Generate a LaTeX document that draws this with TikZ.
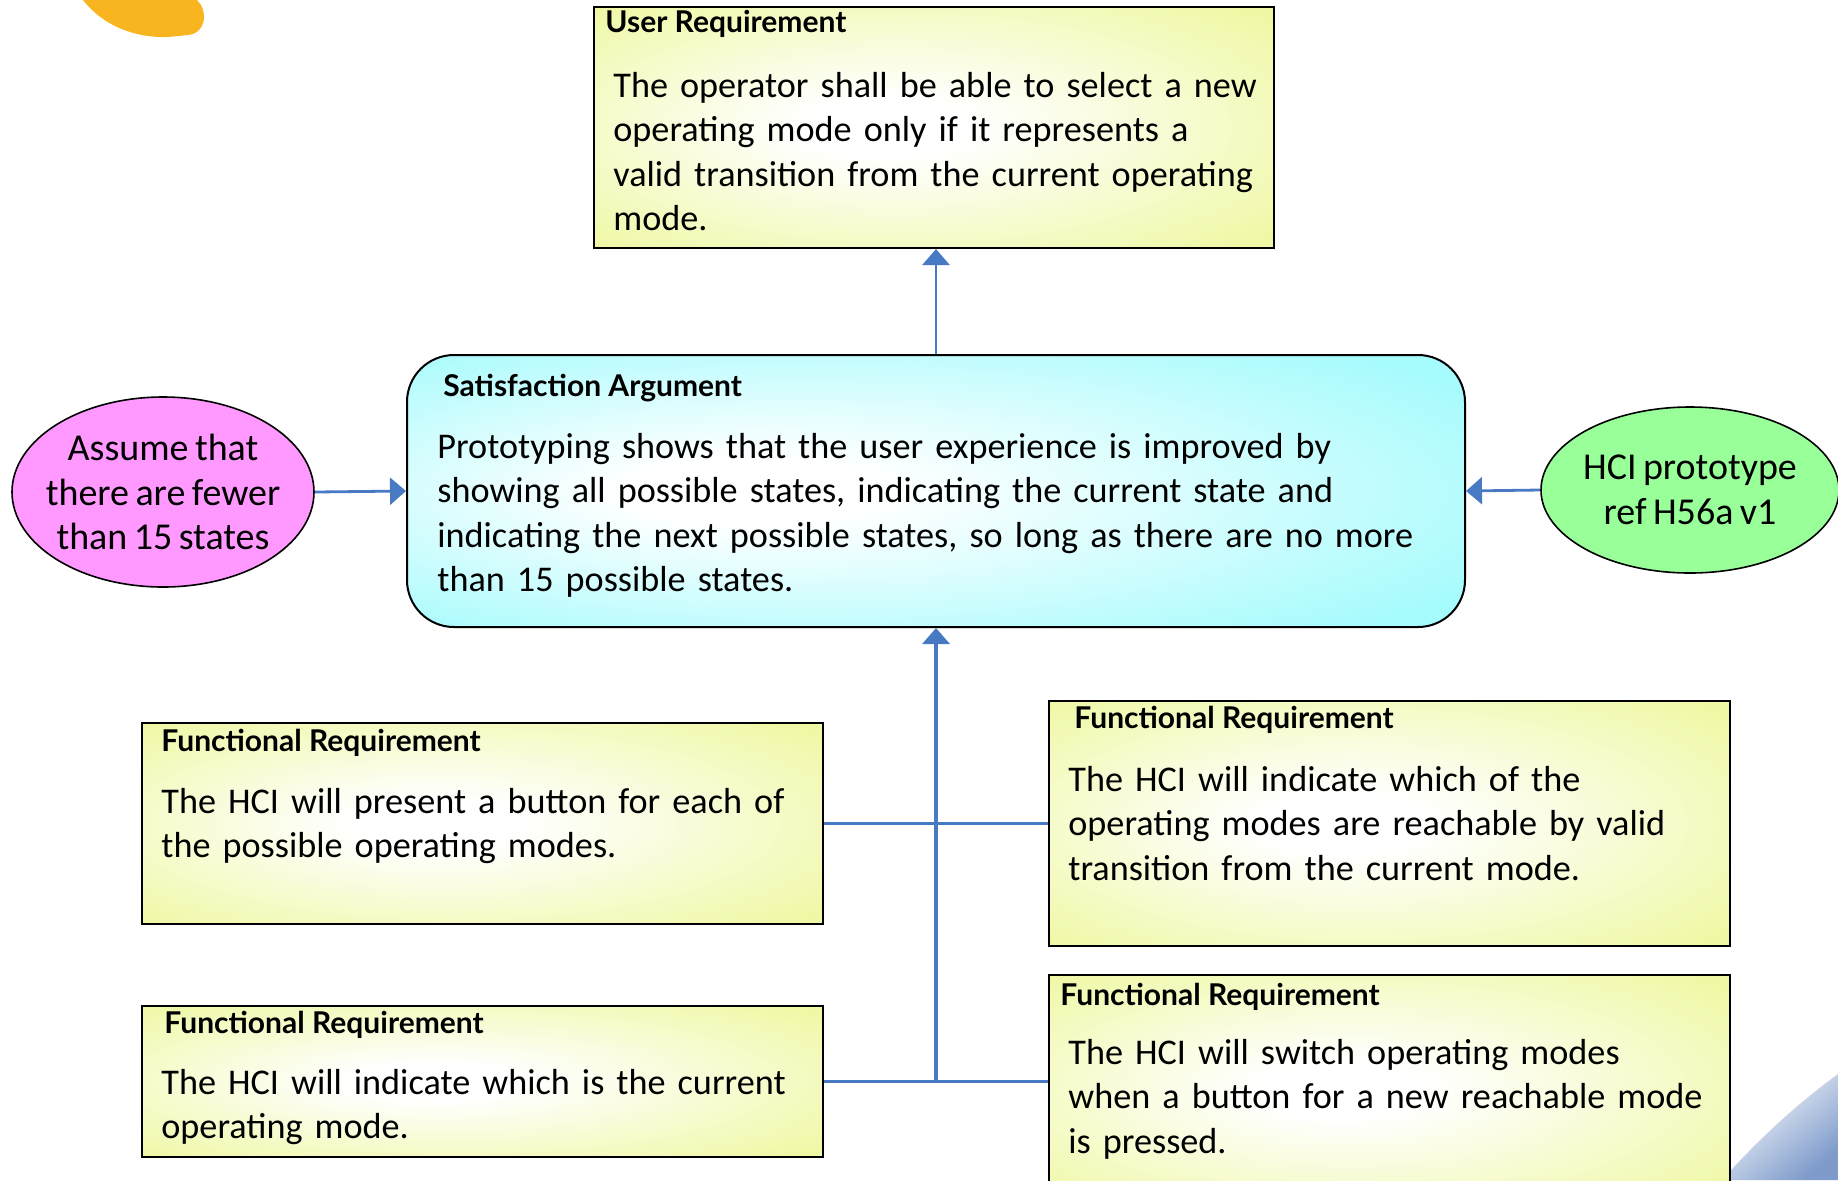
\documentclass[tikz,border=0pt]{standalone}
\usepackage{fontspec}
\setmainfont{Carlito}[WordSpace=0.75]
\newfontfamily\headfont{Lato}
\usetikzlibrary{shapes.geometric,arrows.meta}

\definecolor{boxyellow}{RGB}{240,248,166}
\definecolor{boxcyan}{RGB}{166,251,253}
\definecolor{pinkfill}{RGB}{255,153,255}
\definecolor{greenfill}{RGB}{153,255,153}
\definecolor{linkblue}{RGB}{72,122,196}
\definecolor{bloborange}{RGB}{249,181,32}
\definecolor{swooshblue}{RGB}{126,155,203}

% soft white glow in the middle of the requirement and argument boxes
\pgfdeclareradialshading{yglow}{\pgfpoint{-4bp}{0bp}}{color(0bp)=(white); color(6bp)=(white); color(34bp)=(boxyellow); color(50bp)=(boxyellow)}
\pgfdeclareradialshading{cglow}{\pgfpoint{-10bp}{0bp}}{color(0bp)=(white); color(6bp)=(white); color(34bp)=(boxcyan); color(50bp)=(boxcyan)}

\newcommand{\bodyfont}{\fontsize{18.1pt}{22.25pt}\selectfont}
\newcommand{\ovalfont}{\fontsize{19pt}{22.25pt}\selectfont}
\newcommand{\titlefont}{\headfont\bfseries\fontsize{15pt}{17pt}\selectfont}

\tikzset{
  ybox/.style={draw=black, line width=1pt, shading=yglow, inner sep=0pt, anchor=north west},
  cbox/.style={draw=black, line width=1pt, shading=cglow, inner sep=0pt, anchor=north west, rounded corners=23.5pt},
  oval/.style={ellipse, draw=black, line width=0.8pt, inner sep=0pt},
  bodytext/.style={font=\bodyfont, align=left, text width=345pt, inner sep=0pt, anchor=base west},
  ovaltext/.style={font=\ovalfont, align=center, inner sep=0pt},
  titletext/.style={font=\titlefont, inner sep=0pt, anchor=base west},
  conn/.style={draw=linkblue, line width=1.4pt},
  arr/.style={conn, -{Triangle[width=13.5pt,length=8pt]}}
}

\begin{document}
\begin{tikzpicture}[x=0.5pt,y=-0.5pt]
\path[use as bounding box] (0,0) rectangle (1838,1180);
\clip (0,0) rectangle (1838,1180);

% corner decorations
\fill[bloborange] (83,0) .. controls (105,28) and (138,38) .. (168,37)
  -- (188,35) .. controls (207,33) and (208,10) .. (197,0) -- cycle;
\shade[top color=white, bottom color=swooshblue, shading angle=40]
  (1722,1180) .. controls (1765,1132) and (1805,1098) .. (1838,1074) -- (1838,1180) -- cycle;

% user requirement
\node[ybox, minimum width=340pt, minimum height=120.5pt] (ur) at (593,6) {};
\node[titletext] (urttl) at (605,32) {User Requirement};
\node[bodytext] (urtxt) at (613,97) {The operator shall be able to select a new\\operating mode only if it represents a\\valid transition from the current operating\\mode.};

% satisfaction argument
\node[cbox, minimum width=529pt, minimum height=136pt] (sa) at (406,354) {};
\node[titletext] (sattl) at (443,396) {Satisfaction Argument};
\node[bodytext, text width=520pt] (satxt) at (437,458) {Prototyping shows that the user experience is improved by\\showing all possible states, indicating the current state and\\indicating the next possible states, so long as there are no more\\than 15 possible states.};

% assumption and evidence
\node[oval, fill=pinkfill, minimum width=151pt, minimum height=95pt] (asm) at (163,492) {};
\node[ovaltext] (asmtxt) at (asm) {Assume that\\there are fewer\\than 15 states};
\node[oval, fill=greenfill, minimum width=149pt, minimum height=83pt] (proto) at (1690,490) {};
\node[ovaltext] (prototxt) at (proto) {HCI prototype\\ref H56a v1};

% functional requirements
\node[ybox, minimum width=340.5pt, minimum height=100.5pt] (fr1) at (141,722) {};
\node[titletext] (fr1ttl) at (161,751) {Functional Requirement};
\node[bodytext] (fr1txt) at (161,813) {The HCI will present a button for each of\\the possible operating modes.};

\node[ybox, minimum width=340.5pt, minimum height=122.5pt] (fr2) at (1048,700) {};
\node[titletext] (fr2ttl) at (1074,728) {Functional Requirement};
\node[bodytext] (fr2txt) at (1068,791) {The HCI will indicate which of the\\operating modes are reachable by valid\\transition from the current mode.};

\node[ybox, minimum width=340.5pt, minimum height=75.5pt] (fr3) at (141,1005) {};
\node[titletext] (fr3ttl) at (164,1033) {Functional Requirement};
\node[bodytext] (fr3txt) at (161,1094) {The HCI will indicate which is the current\\operating mode.};

\node[ybox, minimum width=340.5pt, minimum height=115pt] (fr4) at (1048,974) {};
\node[titletext] (fr4ttl) at (1060,1005) {Functional Requirement};
\node[bodytext] (fr4txt) at (1068,1064) {The HCI will switch operating modes\\when a button for a new reachable mode\\is pressed.};

% connectors
\draw[arr] (sa.north) -- (sa.north |- ur.south);
\draw[arr] (asm.east) -- (sa.west);
\draw[arr] (proto.west) -- (sa.east);
\coordinate (jlow) at (sa.south |- fr3.east);
\draw[arr, line width=1.8pt] (jlow) -- (sa.south);
\draw[conn] (fr1.east) -- (fr2.west);
\draw[conn] (fr3.east) -- (fr3.east -| fr4.west);
\end{tikzpicture}
\end{document}
